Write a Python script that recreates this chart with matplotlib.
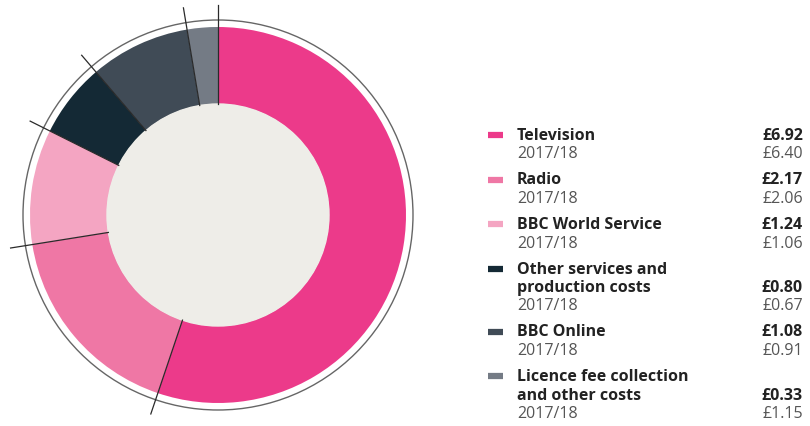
import matplotlib.pyplot as plt
import numpy as np

# BBC spend per licence fee payer (GBP per month)
categories = ['Television', 'Radio', 'BBC World Service',
              'Other services and\nproduction costs', 'BBC Online',
              'Licence fee collection\nand other costs']
values_2019 = [6.92, 2.17, 1.24, 0.80, 1.08, 0.33]
values_2018 = [6.40, 2.06, 1.06, 0.67, 0.91, 1.15]
prev_label = '2017/18'
colors = ['#ec3a8a', '#ef77a5', '#f4a5c2', '#142935', '#404b56', '#747b85']

plt.rcParams['font.family'] = ['Open Sans', 'DejaVu Sans']

fig = plt.figure(figsize=(8.1, 4.26), dpi=100)
ax = fig.add_axes([0, 0, 1, 1])

cx, cy = 218, 426 - 215
r_out, r_in = 188, 111

wedges, _ = ax.pie(values_2019, colors=colors, radius=r_out, center=(cx, cy),
                   startangle=90, counterclock=False,
                   wedgeprops=dict(width=r_out - r_in, linewidth=0))
ax.add_patch(plt.Circle((cx, cy), r_in, color='#eeede8', zorder=3))
ax.add_patch(plt.Circle((cx, cy), 195, fill=False, ec='#666666', lw=1.0, zorder=3))

# leader lines at the wedge boundaries
total = sum(values_2019)
bounds = np.cumsum([0] + values_2019[:-1]) / total * 360
for b in bounds:
    t = np.deg2rad(90 - b)
    ax.plot([cx + r_in * np.cos(t), cx + 210 * np.cos(t)],
            [cy + r_in * np.sin(t), cy + 210 * np.sin(t)],
            color='#2a2a2a', lw=0.9, zorder=4)

ax.set_xlim(0, 810)
ax.set_ylim(0, 426)
ax.set_aspect('equal')
ax.axis('off')

# legend on the right
y = 426 - 136
line = 18.5
fs = 11.5
for name, v, pv, c in zip(categories, values_2019, values_2018, colors):
    ax.plot([488, 503], [y + 1, y + 1], color=c, lw=4.5, solid_capstyle='butt')
    parts = name.split('\n')
    for i, p in enumerate(parts):
        ax.text(517, y - i * line, p, fontsize=fs, fontweight='bold',
                color='#222222', ha='left', va='center')
    vy = y - line * (len(parts) - 1)
    ax.text(803, vy, f'£{v:.2f}', fontsize=fs, fontweight='bold',
            color='#222222', ha='right', va='center')
    ax.text(517, vy - line, prev_label, fontsize=fs, color='#555555',
            ha='left', va='center')
    ax.text(803, vy - line, f'£{pv:.2f}', fontsize=fs, color='#555555',
            ha='right', va='center')
    y = vy - line - 26

fig.savefig('out.png', dpi=100)
